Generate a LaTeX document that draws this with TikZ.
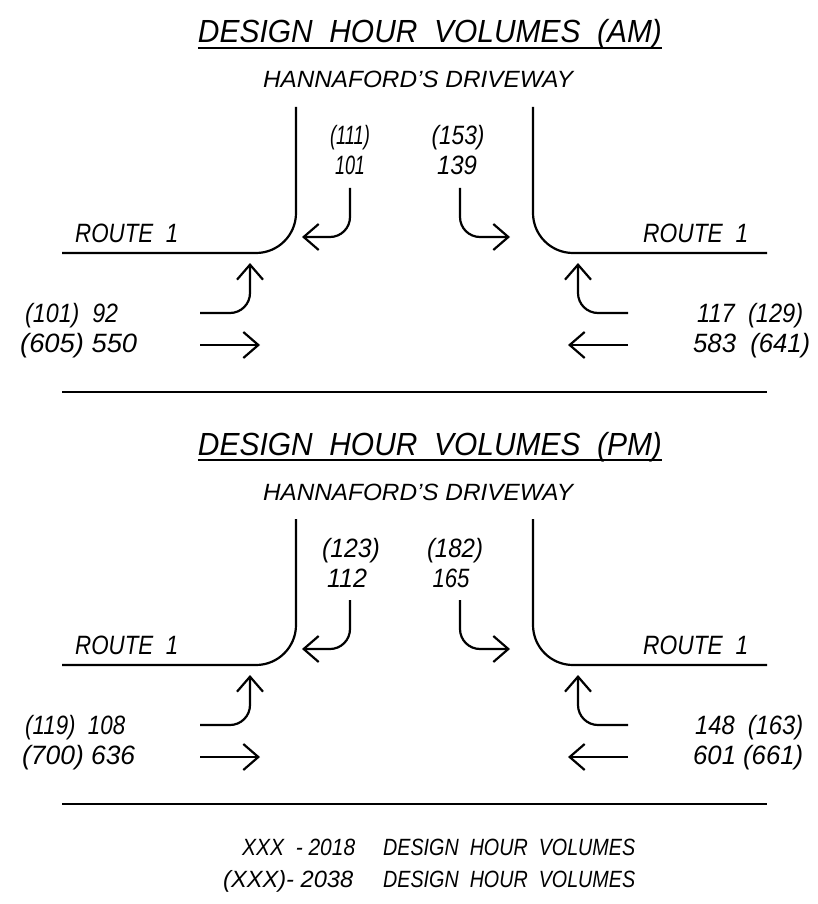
\documentclass[tikz,border=0pt]{standalone}
\usepackage{fontspec}
\setmainfont{Liberation Sans}
\usetikzlibrary{arrows.meta}
\newcommand{\fw}[2]{\resizebox{#1pt}{\height}{#2}}
\newcommand{\panelgeom}[1]{%
  % curbs
  \coordinate (lc-s#1) at (296,107);
  \coordinate (lc-e#1) at (62,253);
  \coordinate (rc-s#1) at (533,107);
  \coordinate (rc-e#1) at (767,253);
  \draw[curb, rounded corners=40pt] (lc-s#1) |- (lc-e#1);
  \draw[curb, rounded corners=40pt] (rc-s#1) |- (rc-e#1);
  % southbound movements
  \coordinate (sbr-s#1) at (350,188);
  \coordinate (sbr-e#1) at (302,237);
  \coordinate (sbl-s#1) at (460,188);
  \coordinate (sbl-e#1) at (510,237);
  \draw[mv] (sbr-s#1) |- (sbr-e#1);
  \draw[mv] (sbl-s#1) |- (sbl-e#1);
  % eastbound movements
  \coordinate (ebl-s#1) at (200,313);
  \coordinate (ebl-e#1) at (250,263);
  \coordinate (ebt-s#1) at (200,345);
  \coordinate (ebt-e#1) at (260,345);
  \draw[mv] (ebl-s#1) -| (ebl-e#1);
  \draw[mv] (ebt-s#1) -- (ebt-e#1);
  % westbound movements
  \coordinate (wbr-s#1) at (628,313);
  \coordinate (wbr-e#1) at (578,263);
  \coordinate (wbt-s#1) at (628,345);
  \coordinate (wbt-e#1) at (568,345);
  \draw[mv] (wbr-s#1) -| (wbr-e#1);
  \draw[mv] (wbt-s#1) -- (wbt-e#1);
  % separator
  \coordinate (sep-w#1) at (62,392);
  \coordinate (sep-e#1) at (767,392);
  \draw[curb] (sep-w#1) -- (sep-e#1);
  % fixed texts
  \node[sub, anchor=base] (drv#1) at (418,88) {\fw{310}{HANNAFORD'S DRIVEWAY}};
  \node[num, anchor=base west] (rtl#1) at (75,242) {\fw{103}{ROUTE\ \ 1}};
  \node[num, anchor=base west] (rtr#1) at (643,242) {\fw{105}{ROUTE\ \ 1}};
}
\begin{document}
\begin{tikzpicture}[x=1pt,y=-1pt,
  curb/.style={line width=2.2pt},
  mv/.style={line width=2.2pt, rounded corners=20pt,
    -{Straight Barb[length=15pt,width=26pt,line width=2.2pt]}},
  ttl/.style={inner sep=0pt, font=\itshape\fontsize{32}{38}\selectfont},
  sub/.style={inner sep=0pt, font=\itshape\fontsize{23.5}{28}\selectfont},
  num/.style={inner sep=0pt, font=\itshape\fontsize{26.5}{30}\selectfont},
  leg/.style={inner sep=0pt, font=\itshape\fontsize{23.5}{28}\selectfont}]
\fill[white] (0,0) rectangle (818,904);
\useasboundingbox (0,0) rectangle (818,904);

% ---------------- AM panel ----------------
\begin{scope}
  \node[ttl, anchor=base] (tA) at (430,43) {\fw{464}{DESIGN\ \ HOUR\ \ VOLUMES\ \ (AM)}};
  \draw[line width=2pt] ([yshift=-5pt]tA.base west) -- ([yshift=-5pt]tA.base east);
  \panelgeom{A}
  \node[num, anchor=base] (a1) at (350,145) {\fw{40}{(111)}};
  \node[num, anchor=base] (a2) at (350,175) {\fw{30}{101}};
  \node[num, anchor=base] (a3) at (458,145) {\fw{53}{(153)}};
  \node[num, anchor=base] (a4) at (457,175) {\fw{40}{139}};
  \node[num, anchor=base west] (a5) at (25,322) {\fw{93}{(101)\ \ 92}};
  \node[num, anchor=base west] (a6) at (20,352) {\fw{117}{(605) 550}};
  \node[num, anchor=base west] (a7) at (697,322) {\fw{106}{117\ \ (129)}};
  \node[num, anchor=base west] (a8) at (693,352) {\fw{117}{583\ \ (641)}};
\end{scope}

% ---------------- PM panel ----------------
\begin{scope}[shift={(0,412)}]
  \node[ttl, anchor=base] (tP) at (430,43) {\fw{464}{DESIGN\ \ HOUR\ \ VOLUMES\ \ (PM)}};
  \draw[line width=2pt] ([yshift=-5pt]tP.base west) -- ([yshift=-5pt]tP.base east);
  \panelgeom{P}
  \node[num, anchor=base] (p1) at (351,145) {\fw{58}{(123)}};
  \node[num, anchor=base] (p2) at (347,175) {\fw{40}{112}};
  \node[num, anchor=base] (p3) at (455,145) {\fw{56}{(182)}};
  \node[num, anchor=base] (p4) at (451,175) {\fw{37}{165}};
  \node[num, anchor=base west] (p5) at (25,322) {\fw{100}{(119)\ \ 108}};
  \node[num, anchor=base west] (p6) at (22,352) {\fw{113}{(700) 636}};
  \node[num, anchor=base west] (p7) at (695,322) {\fw{108}{148\ \ (163)}};
  \node[num, anchor=base west] (p8) at (693,352) {\fw{110}{601 (661)}};
\end{scope}

% ---------------- legend ----------------
\node[leg, anchor=base west] (l1) at (242,855) {\fw{113}{XXX\ \ - 2018}};
\node[leg, anchor=base west] (l2) at (223,887) {\fw{130}{(XXX)- 2038}};
\node[leg, anchor=base west] (l3) at (383,855) {\fw{252}{DESIGN\ \ HOUR\ \ VOLUMES}};
\node[leg, anchor=base west] (l4) at (383,887) {\fw{252}{DESIGN\ \ HOUR\ \ VOLUMES}};
\end{tikzpicture}
\end{document}
